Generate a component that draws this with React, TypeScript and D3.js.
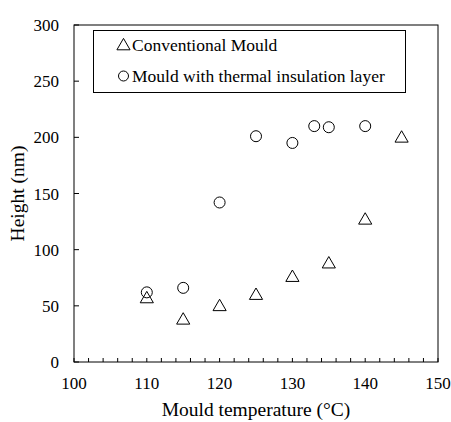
import * as d3 from 'd3';
import React from 'react';

const conventionalTemps = [110, 115, 120, 125, 130, 135, 140, 145];
const conventionalHeights = [57, 38, 50, 60, 76, 88, 127, 200];
const insulatedTemps = [110, 115, 120, 125, 130, 133, 135, 140];
const insulatedHeights = [62, 66, 142, 201, 195, 210, 209, 210];
const xTicks = [100, 110, 120, 130, 140, 150];
const yTicks = [0, 50, 100, 150, 200, 250, 300];
const legendLabels = ['Conventional Mould', 'Mould with thermal insulation layer'];

const font = "'Liberation Serif'";

const width = 451;
const height = 422;
const margin = { top: 25, right: 13, bottom: 60, left: 74 };

const x = d3.scaleLinear().domain([100, 150]).range([margin.left, width - margin.right]);
const y = d3.scaleLinear().domain([0, 300]).range([height - margin.bottom, margin.top]);
const minorTicks = d3.range(100, 151, 2);
const triangle = d3.symbol().type(d3.symbolTriangle).size(75)() ?? '';

const App = (): React.JSX.Element => {
	const x0 = x(100);
	const y0 = y(0);
	return (
		<svg width={width} height={height} style={{ position: 'absolute', left: 0, top: 0, fontFamily: font }}>
			<rect x={x0} y={y(300)} width={x(150) - x0} height={y0 - y(300)} fill="none" stroke="#000" />

			{minorTicks.map((t) => (
				<line key={`mx${t}`} x1={x(t)} x2={x(t)} y1={y0} y2={y0 - 4} stroke="#000" />
			))}
			{xTicks.map((t) => (
				<text key={`xl${t}`} x={x(t)} y={y0 + 27} textAnchor="middle" style={{ fontFamily: font, fontSize: '17px' }}>
					{t}
				</text>
			))}

			{yTicks.map((t) => (
				<g key={`y${t}`}>
					<line x1={x0} x2={x0 + 5} y1={y(t)} y2={y(t)} stroke="#000" />
					<text x={x0 - 15} y={y(t) + 6} textAnchor="end" style={{ fontFamily: font, fontSize: '17px' }}>
						{t}
					</text>
				</g>
			))}

			<text x={(x0 + x(150)) / 2} y={416} textAnchor="middle" style={{ fontFamily: font, fontSize: '19.5px' }}>
				Mould temperature (°C)
			</text>
			<text
				transform={`translate(24, ${(y0 + y(300)) / 2}) rotate(-90)`}
				textAnchor="middle"
				style={{ fontFamily: font, fontSize: '19.5px' }}
			>
				Height (nm)
			</text>

			{conventionalTemps.map((t, i) => (
				<path
					key={`c${t}`}
					d={triangle}
					transform={`translate(${x(t)}, ${y(conventionalHeights[i]) + 1})`}
					fill="none"
					stroke="#000"
				/>
			))}
			{insulatedTemps.map((t, i) => (
				<circle key={`i${t}`} cx={x(t)} cy={y(insulatedHeights[i])} r={5.5} fill="none" stroke="#000" />
			))}

			<rect x={93.5} y={30.5} width={312} height={62} fill="#fff" stroke="#000" />
			<path d={triangle} transform="translate(123.5, 46)" fill="none" stroke="#000" />
			<circle cx={123.5} cy={76} r={5} fill="none" stroke="#000" />
			{legendLabels.map((l, i) => (
				<text key={l} x={132} y={51 + i * 30.5} style={{ fontFamily: font, fontSize: '17.5px' }}>
					{l}
				</text>
			))}
		</svg>
	);
};

export default App;
